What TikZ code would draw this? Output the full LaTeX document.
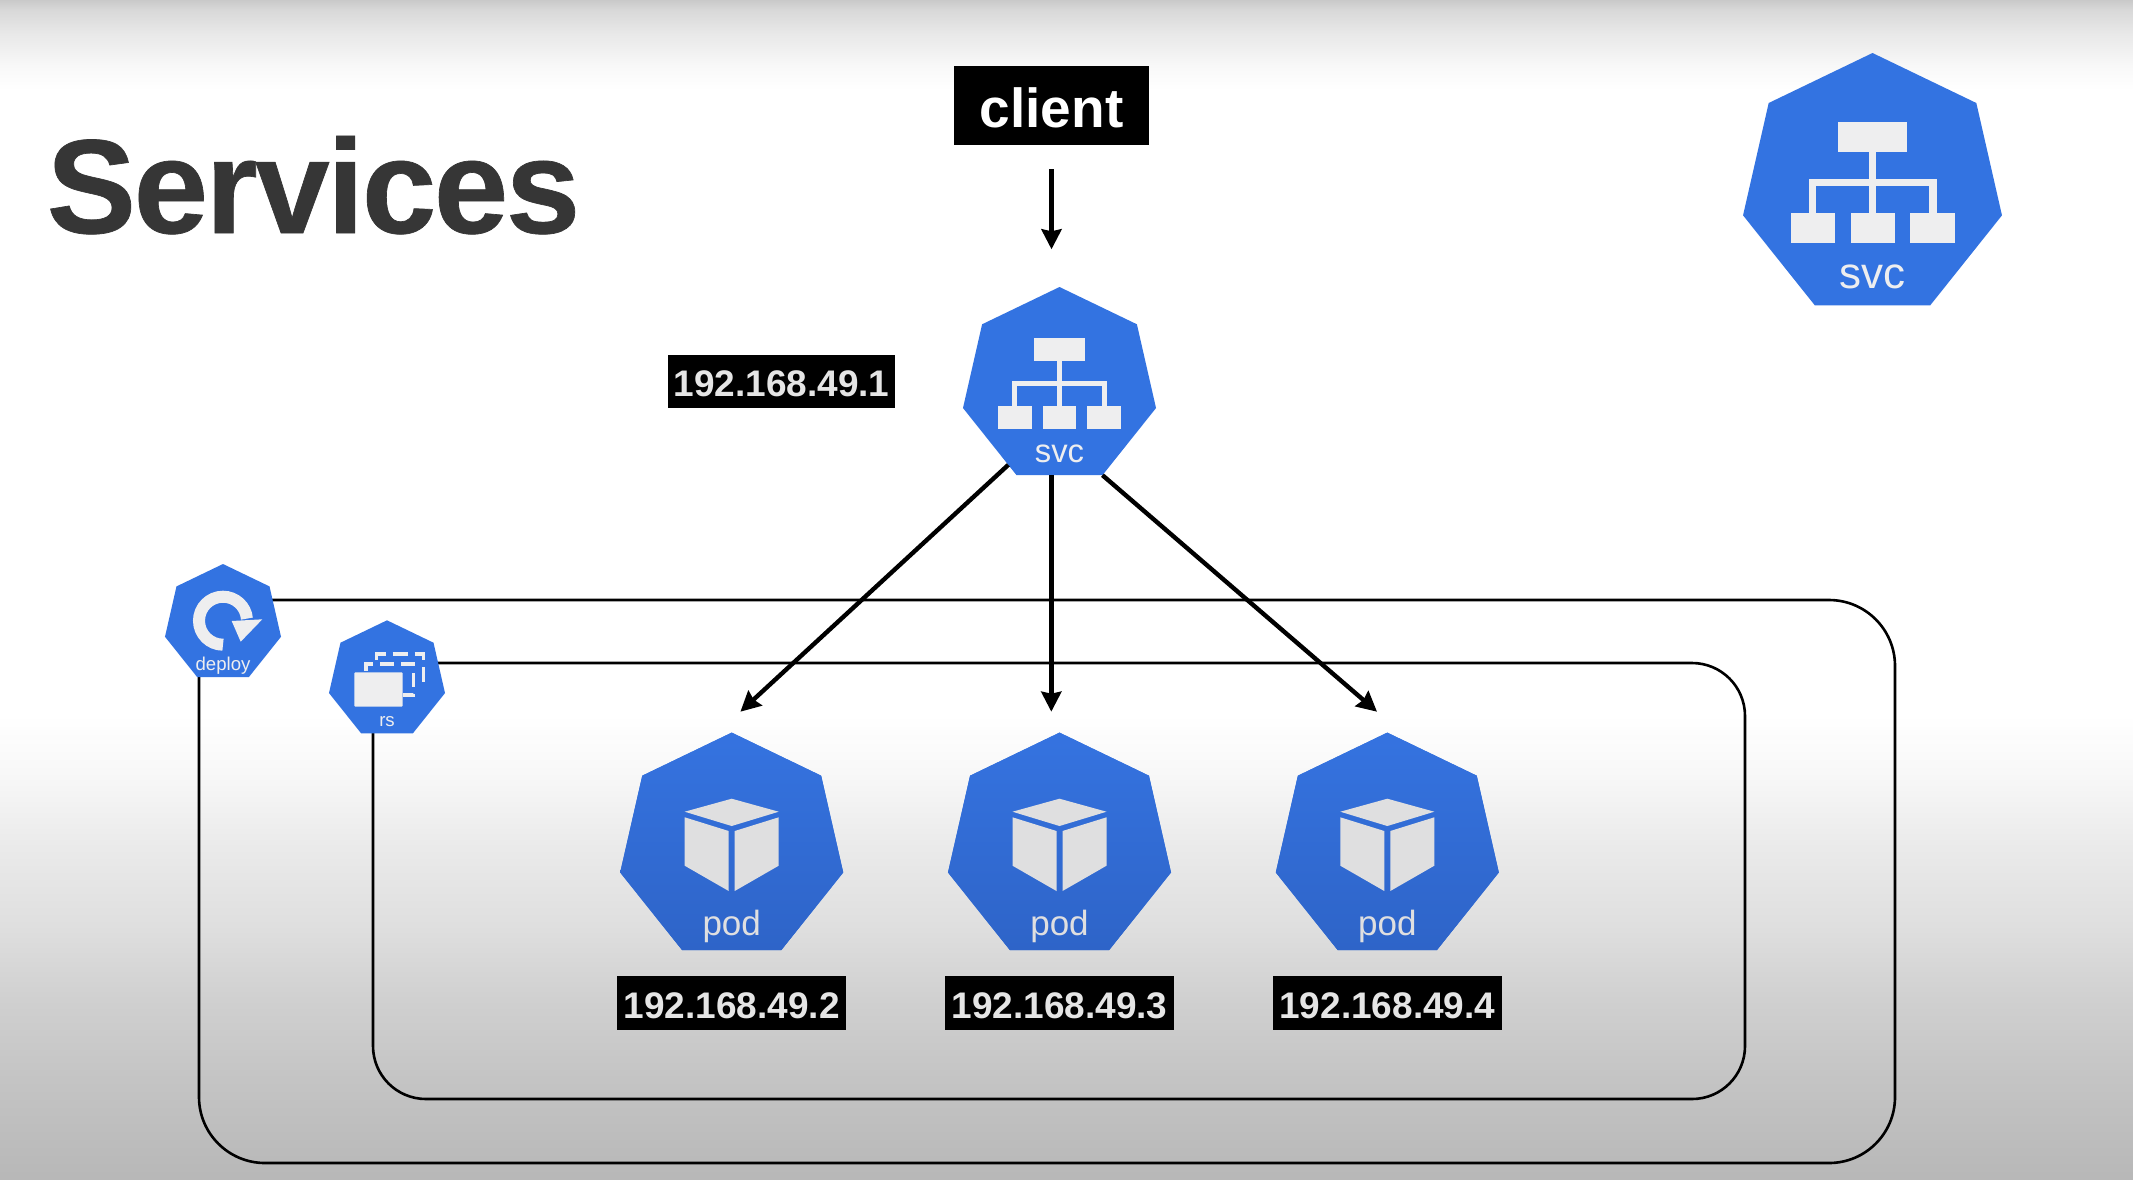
\documentclass[tikz,border=0pt]{standalone}
\usepackage{fontspec}
\setmainfont{Liberation Sans}
\newfontfamily\titlefont[LetterSpace=-1.9,FakeBold=0.5]{Liberation Sans Bold}
\usetikzlibrary{shapes.geometric,arrows.meta}
\definecolor{kubeBlue}{HTML}{3373E1}
\definecolor{podTop}{HTML}{3573E0}
\definecolor{podBottom}{HTML}{2E64C8}
\definecolor{iconColor}{HTML}{EEEEEF}
\definecolor{cubeColor}{HTML}{DFDFE0}
\definecolor{titleColor}{HTML}{363636}
\newcommand{\fsize}[1]{\fontsize{#1}{#1}\selectfont}
\pgfdeclareverticalshading{slidebg}{100bp}{
    rgb(0bp)=(.72,.72,.72);
    rgb(25bp)=(.72,.72,.72);
    rgb(29.33bp)=(.77,.77,.77);
    rgb(32.59bp)=(.815,.815,.815);
    rgb(35.81bp)=(.875,.875,.875);
    rgb(39.08bp)=(.918,.918,.918);
    rgb(42.3bp)=(.973,.973,.973);
    rgb(44.72bp)=(1,1,1);
    rgb(71.18bp)=(1,1,1);
    rgb(72.2bp)=(.973,.973,.973);
    rgb(73.6bp)=(.91,.91,.91);
    rgb(74.58bp)=(.847,.847,.847);
    rgb(75bp)=(.788,.788,.788);
    rgb(100bp)=(.788,.788,.788)}
\tikzset{
    >={Stealth[length=20pt,width=20pt,inset=2pt]},
    kubehex/.style={regular polygon,regular polygon sides=7,fill=kubeBlue,inner sep=0pt,outer sep=0pt},
    podhex/.style={kubehex,top color=podTop,bottom color=podBottom,minimum size=228.8pt},
    blackbox/.style={fill=black,text=white,inner sep=0pt},
    ipbox/.style={blackbox,minimum width=229pt,minimum height=54pt,text height=30pt,text depth=0pt,font=\fsize{37}\bfseries,text=white!90!black},
    framebox/.style={draw=black,line width=2.6pt},
    link/.style={->,line width=4.4pt},
    kubelabel/.style={anchor=base,inner sep=0pt,text=iconColor},
    svcicon/.pic={
        \fill[iconColor] (-34.7,-64.3) rectangle (34.7,-33.7);
        \fill[iconColor] (-3.3,-34) rectangle (3.3,27);
        \fill[iconColor] (-64,-7) rectangle (64,0);
        \fill[iconColor] (-64,-7) rectangle (-56.5,27);
        \fill[iconColor] (56.5,-7) rectangle (64,27);
        \fill[iconColor] (-82,26.7) rectangle (-37.5,57.3);
        \fill[iconColor] (-22,26.7) rectangle (22,57.3);
        \fill[iconColor] (37.5,26.7) rectangle (82,57.3);
        \node[kubelabel,transform shape,font=\fsize{44}] (-label) at (0,103) {svc};
    },
    podicon/.pic={
        \fill[cubeColor] (-47,-35.3) -- (0,-48.3) -- (47,-35.3) -- (0,-21) -- cycle;
        \fill[cubeColor] (-47,-29.7) -- (-3,-16) -- (-3,44) -- (-47,18.7) -- cycle;
        \fill[cubeColor] (47,-29.7) -- (3,-16) -- (3,44) -- (47,18.7) -- cycle;
        \node[kubelabel,font=\fsize{35},text=cubeColor] (-label) at (0,88.5) {pod};
    },
    deployicon/.pic={
        \draw[iconColor,line width=12pt] (0,21.2) arc[start angle=270,delta angle=-265,radius=24pt];
        \fill[iconColor] (8.7,-2.5) -- (39.3,-4.2) -- (17.7,18.2) -- cycle;
        \node[kubelabel,font=\fsize{18.6}] (-label) at (0,46.5) {deploy};
    },
    rsicon/.pic={
        \draw[iconColor,line width=3.2pt,dash pattern=on 15pt off 7pt] (-10.3,-19.8) -- (-10.3,-25.8) -- (36.3,-25.8) -- (36.3,4.5);
        \draw[iconColor,line width=3.2pt,dash pattern=on 14pt off 7pt] (-21,-9.1) -- (-21,-15.8) -- (26.3,-15.8) -- (26.3,15.2) -- (16.3,15.2);
        \fill[iconColor,rounded corners=1pt] (-32.7,-7.5) rectangle (15.7,26.9);
        \node[kubelabel,font=\fsize{18.6}] (-label) at (0,47) {rs};
    }
}

\begin{document}
\begin{tikzpicture}[x=1pt,y=-1pt]
    \shade[shading=slidebg] (0,0) rectangle (2133,1179);

    \draw[framebox,rounded corners=66pt] (199,600) rectangle (1895,1163);
    \draw[framebox,rounded corners=53pt] (373,663) rectangle (1745,1099);

    \node[anchor=base west,inner sep=0pt,text=titleColor,font=\titlefont\fsize{134}] (title) at (46.5,233) {Services};

    \node[blackbox,minimum width=195pt,minimum height=79pt,text height=43pt,text depth=0pt,font=\fsize{55}\bfseries] (client) at (1051.5,105.7) {client};
    \coordinate (clientend) at (1051.5,249.3);
    \draw[link,shorten <=24pt] (client.south) -- (clientend);

    \node[kubehex,minimum size=198pt] (svc) at (1059.5,386) {};
    \pic[scale=.745] (svcmark) at (svc) {svcicon};
    \node[ipbox,minimum width=227pt,minimum height=53pt] (svcip) at (781.5,381.5) {192.168.49.1};

    \node[kubehex,minimum size=265.6pt] (svcbig) at (1872.5,185.8) {};
    \pic (svcbigmark) at (svcbig) {svcicon};

    \node[kubehex,minimum size=119pt] (deploy) at (223,623.5) {};
    \pic (deploymark) at (deploy) {deployicon};
    \node[kubehex,minimum size=119pt] (rs) at (387,679.8) {};
    \pic (rsmark) at (rs) {rsicon};

    \foreach \pname/\xx/\ipaddr in {poda/731.7/192.168.49.2,podb/1059.5/192.168.49.3,podc/1387.3/192.168.49.4}
    {
        \node[podhex] (\pname) at (\xx,847) {};
        \pic (\pname mark) at (\pname) {podicon};
        \node[ipbox] (\pname ip) at (\xx,1003) {\ipaddr};
    }

    \coordinate (tipa) at (740.4,711.7);
    \coordinate (tipb) at (1051.3,711.7);
    \coordinate (tipc) at (1377,711.7);
    \draw[link] (svc.237.3) -- (tipa);
    \draw[link] (tipb |- svc.265) -- (tipb);
    \draw[link] (svc.corner 5) -- (tipc);
\end{tikzpicture}
\end{document}
